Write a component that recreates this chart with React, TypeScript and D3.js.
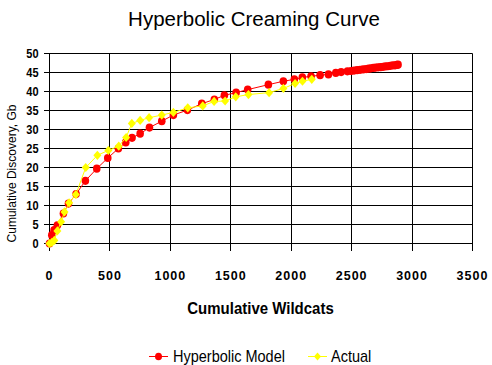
import React from "react";
import * as d3 from "d3";

const xTicks = [0, 500, 1000, 1500, 2000, 2500, 3000, 3500];
const yTicks = [0, 5, 10, 15, 20, 25, 30, 35, 40, 45, 50];

const modelX = [0, 19, 38, 65, 115, 157, 220, 297, 391, 482, 570, 631, 683, 750, 827, 929, 1025, 1141, 1260, 1364, 1447, 1544, 1640, 1811, 1935, 2026, 2092, 2164, 2239, 2308, 2369, 2413, 2465, 2495, 2520, 2545, 2570, 2595, 2620, 2640, 2660, 2680, 2700, 2720, 2740, 2760, 2780, 2800, 2820, 2840, 2860, 2875, 2884];
const modelY = [0, 2.2, 3.5, 4.8, 7.9, 10.5, 13, 16.5, 19.7, 22.5, 25, 26.6, 27.8, 28.9, 30.5, 32.2, 33.8, 35.1, 36.8, 37.9, 39, 39.7, 40.5, 41.8, 42.7, 43.2, 43.7, 44, 44.3, 44.5, 44.9, 45.1, 45.3, 45.4, 45.5, 45.6, 45.7, 45.8, 45.9, 46, 46.1, 46.2, 46.3, 46.35, 46.4, 46.5, 46.6, 46.65, 46.75, 46.85, 46.9, 47.0, 47.05];

const actualX = [0, 20, 40, 65, 96, 124, 162, 218, 300, 396, 487, 573, 634, 681, 750, 824, 929, 1025, 1144, 1268, 1362, 1453, 1541, 1646, 1817, 1935, 2032, 2093, 2170];
const actualY = [0, 0.3, 0.8, 3.3, 5.7, 8.3, 10.7, 12.9, 20, 23.2, 24.5, 25.6, 27.9, 31.6, 32.4, 33.1, 33.8, 34.5, 35.7, 36.2, 37.4, 37.5, 38.6, 39.2, 39.7, 40.8, 42.1, 42.7, 43.2];

const seriesNames = ["Hyperbolic Model", "Actual"];
const FONT = "'Liberation Sans', Arial, sans-serif";

export default function App() {
  const W = 492, H = 365;
  const x = d3.scaleLinear().domain([0, 3500]).range([49.5, 472.5]);
  const y = d3.scaleLinear().domain([0, 50]).range([243.5, 53.5]);
  const px = (v: number) => Math.round(x(v) - 0.5) + 0.5;
  const py = (v: number) => Math.round(y(v) - 0.5) + 0.5;

  const model = modelX.map((v, i) => [v, modelY[i]] as [number, number]);
  const actual = actualX.map((v, i) => [v, actualY[i]] as [number, number]);
  const line = d3.line<[number, number]>().x(d => x(d[0])).y(d => y(d[1]));

  const diamond = (cx: number, cy: number, w = 4, h = 4.6) =>
    `M${cx},${cy - h}L${cx + w},${cy}L${cx},${cy + h}L${cx - w},${cy}Z`;

  return (
    <svg width={W} height={H} style={{ position: "absolute", left: 0, top: 0, background: "#fff" }} fontFamily={FONT}>
      <rect width={W} height={H} fill="#fff" />
      <text x={254} y={26} textAnchor="middle" fontSize={20.5} fill="#000">Hyperbolic Creaming Curve</text>

      {/* grid */}
      {yTicks.map(t => (
        <line key={"h" + t} x1={44} x2={px(3500)} y1={py(t)} y2={py(t)} stroke="#000" strokeWidth={1} />
      ))}
      {xTicks.map(t => (
        <line key={"v" + t} x1={px(t)} x2={px(t)} y1={py(50)} y2={251} stroke="#000" strokeWidth={1} />
      ))}

      {/* y tick labels */}
      {yTicks.map(t => (
        <text key={"yl" + t} transform={`translate(38.5,${y(t) + 4.3}) scale(1,1.2)`} textAnchor="end" fontSize={11} fontWeight="bold" fill="#000">{t}</text>
      ))}
      {/* x tick labels */}
      {xTicks.map(t => (
        <text key={"xl" + t} x={x(t)} y={279.5} textAnchor="middle" fontSize={12.5} fontWeight="bold" letterSpacing={1} fill="#000">{t}</text>
      ))}

      <text transform={`translate(260.5,313.5) scale(1,1.15)`} textAnchor="middle" fontSize={15} fontWeight="bold" fill="#000">Cumulative Wildcats</text>
      <text transform={`translate(16,173.5) rotate(-90)`} textAnchor="middle" fontSize={12} fill="#000">Cumulative Discovery, Gb</text>

      {/* series */}
      <path d={line(model) || ""} fill="none" stroke="#ff0000" strokeWidth={1} />
      {model.map((d, i) => (
        <ellipse key={"m" + i} cx={x(d[0])} cy={y(d[1])} rx={3.8} ry={4.1} fill="#ff0000" />
      ))}
      <path d={line(actual) || ""} fill="none" stroke="#ffff00" strokeWidth={1} />
      {actual.map((d, i) => (
        <path key={"a" + i} d={diamond(x(d[0]), y(d[1]))} fill="#ffff00" />
      ))}

      {/* legend */}
      <line x1={149} x2={168} y1={356.5} y2={356.5} stroke="#ff0000" strokeWidth={1} />
      <ellipse cx={158.5} cy={356.5} rx={3.5} ry={3.8} fill="#ff0000" />
      <text transform={`translate(173,361.5) scale(1,1.1)`} fontSize={14.5} fill="#000">{seriesNames[0]}</text>
      <line x1={308} x2={327} y1={356.5} y2={356.5} stroke="#ffff00" strokeWidth={1} />
      <path d={diamond(317.5, 356.5, 3.5, 4)} fill="#ffff00" />
      <text transform={`translate(331,361.5) scale(1,1.1)`} fontSize={14.5} fill="#000">{seriesNames[1]}</text>
    </svg>
  );
}
